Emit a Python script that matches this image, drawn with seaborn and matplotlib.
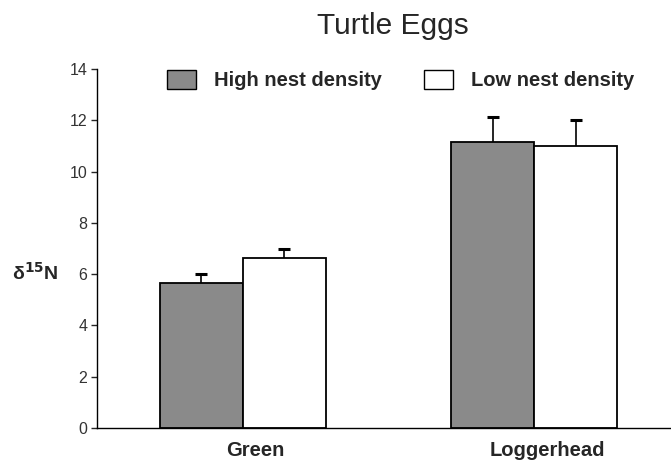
import matplotlib
matplotlib.use("Agg")
import matplotlib.pyplot as plt
import matplotlib.transforms as mtransforms
import seaborn as sns
import pandas as pd

species = ["Green", "Loggerhead"]
density = ["High nest density", "Low nest density"]
high_vals = [5.65, 11.15]
low_vals = [6.63, 11.0]
high_err = [0.35, 0.97]
low_err = [0.35, 1.02]
colors = ["#8a8a8a", "#ffffff"]

df = pd.DataFrame({
    "species": species * 2,
    "density": [density[0]] * 2 + [density[1]] * 2,
    "value": high_vals + low_vals,
})

sns.set_style("white")
plt.rcParams["font.family"] = ["Liberation Sans", "DejaVu Sans"]

fig = plt.figure(figsize=(6.71, 4.63), dpi=100)
ax = fig.add_axes([97 / 671, 1 - 428 / 463, 1 - 97 / 671, (428 - 69) / 463])

sns.barplot(data=df, x="species", y="value", hue="density", hue_order=density,
            order=species, palette=colors, width=0.57, errorbar=None,
            edgecolor="black", linewidth=1.3, ax=ax, legend=True, saturation=1)

errs = [high_err, low_err]
for cont, err in zip(ax.containers, errs):
    xs = [p.get_x() + p.get_width() / 2 for p in cont.patches]
    hs = [p.get_height() for p in cont.patches]
    eb = ax.errorbar(xs, hs, yerr=[[0] * len(err), err], fmt="none", ecolor="black",
                     elinewidth=1.2, capsize=4.5, capthick=2.2, zorder=3)
    caplines = eb[1]
    if len(caplines) == 2:
        caplines[0].remove()

ax.set_ylim(0, 14)
ax.set_xlim(-0.5, 1.47)
ax.set_yticks(range(0, 15, 2))
ax.tick_params(axis="y", which="both", left=True, length=4, width=1, direction="out",
               labelsize=11.5, labelcolor="#333333", pad=3)
ax.tick_params(axis="x", bottom=False, labelsize=14.5, pad=6)
offset = mtransforms.ScaledTranslation(0.13, 0, fig.dpi_scale_trans)
for lab in ax.get_xticklabels():
    lab.set_fontweight("bold")
    lab.set_transform(lab.get_transform() + offset)
ax.set_xlabel("")
ax.set_ylabel("")
sns.despine(ax=ax, top=True, right=True)
for s in ["left", "bottom"]:
    ax.spines[s].set_color("black")
    ax.spines[s].set_linewidth(1)

leg = ax.legend(loc="center", bbox_to_anchor=(0.529, 0.97), ncol=2, frameon=False,
                fontsize=14.5, handlelength=1.45, handleheight=1.1, columnspacing=2.1,
                handletextpad=0.9)
for t in leg.get_texts():
    t.set_fontweight("bold")
for h in leg.legend_handles:
    h.set_edgecolor("black")
    h.set_linewidth(1)

fig.text(393 / 671, 1 - 26 / 463, "Turtle Eggs", ha="center", va="center", fontsize=21.5)
fig.text(35 / 671, 1 - 273 / 463, r"δ$^{\mathbf{15}}$N", ha="center", va="center",
         fontsize=14, fontweight="bold")

fig.savefig("out.png", dpi=100)
